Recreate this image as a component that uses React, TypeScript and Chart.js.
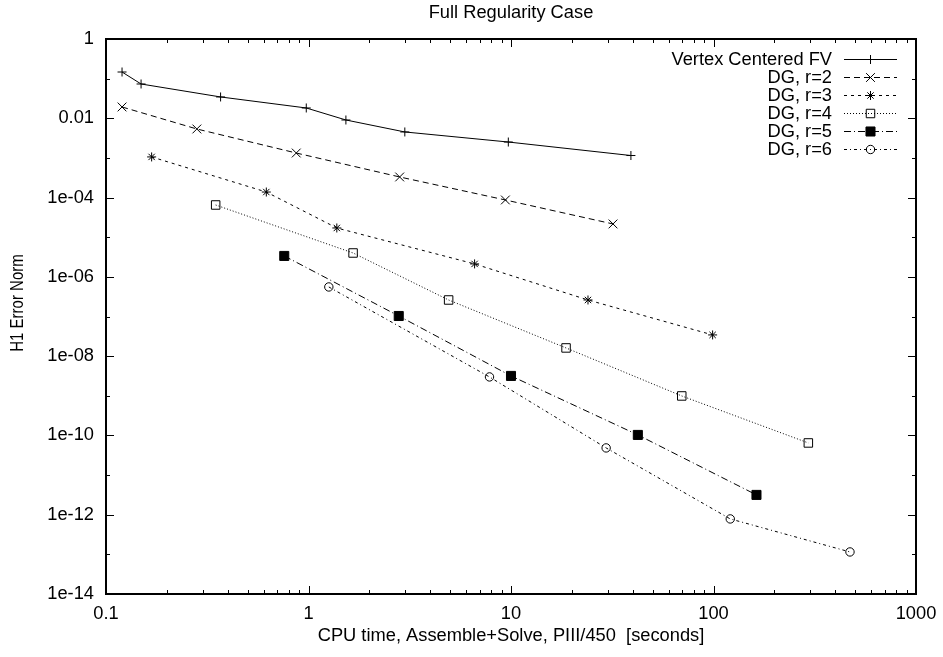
import React, { useEffect, useRef } from 'react';
import { Chart, registerables } from 'chart.js';
import { drawPoint } from 'chart.js/helpers';

Chart.register(...registerables);

const FONT = '"Liberation Sans", Arial, Helvetica, sans-serif';
const FS = 18.3;

const chartTitle = 'Full Regularity Case';
const xAxisTitle = 'CPU time, Assemble+Solve, PIII/450  [seconds]';
const yAxisTitle = 'H1 Error Norm';

const seriesNames = ['Vertex Centered FV', 'DG, r=2', 'DG, r=3', 'DG, r=4', 'DG, r=5', 'DG, r=6'];

const fvTime = [0.12, 0.149, 0.368, 0.975, 1.53, 2.99, 9.7, 39.1];
const fvError = [0.147, 0.0733, 0.0345, 0.0182, 0.00906, 0.00452, 0.00252, 0.00115];

const r2Time = [0.12, 0.281, 0.87, 2.82, 9.38, 31.9];
const r2Error = [0.0193, 0.00537, 0.00133, 3.31e-4, 8.7e-5, 2.16e-5];

const r3Time = [0.168, 0.619, 1.38, 6.61, 24.0, 99];
const r3Error = [1.06e-3, 1.38e-4, 1.71e-5, 2.12e-6, 2.61e-7, 3.43e-8];

const r4Time = [0.348, 1.66, 4.92, 18.7, 69.7, 294];
const r4Error = [6.5e-5, 4.0e-6, 2.61e-7, 1.61e-8, 9.9e-10, 6.46e-11];

const r5Time = [0.759, 2.79, 10.0, 42.3, 163];
const r5Error = [3.37e-6, 1.03e-7, 3.17e-9, 1.03e-10, 3.16e-12];

const r6Time = [1.26, 7.83, 29.5, 121, 472];
const r6Error = [5.56e-7, 2.99e-9, 4.84e-11, 7.83e-13, 1.15e-13];

const xTickValues = [0.1, 1, 10, 100, 1000];
const xTickLabels = ['0.1', '1', '10', '100', '1000'];
const yTickValues = [1e-14, 1e-12, 1e-10, 1e-8, 1e-6, 1e-4, 1e-2, 1];
const yTickLabels = ['1e-14', '1e-12', '1e-10', '1e-08', '1e-06', '1e-04', '0.01', '1'];
const yMinorTickValues = [1e-13, 1e-11, 1e-9, 1e-7, 1e-5, 1e-3, 1e-1];

const toPoints = (xs: number[], ys: number[]) => xs.map((x, i) => ({ x, y: ys[i] }));

type Style = {
  pointStyle: string;
  radius: number;
  dash: number[];
  fill: string;
};

const styles: Style[] = [
  { pointStyle: 'cross', radius: 4.5, dash: [], fill: 'rgba(0,0,0,0)' },
  { pointStyle: 'crossRot', radius: 6.2, dash: [6, 4], fill: 'rgba(0,0,0,0)' },
  { pointStyle: 'star', radius: 4.5, dash: [3, 4], fill: 'rgba(0,0,0,0)' },
  { pointStyle: 'rect', radius: 6, dash: [1, 2], fill: 'rgba(0,0,0,0)' },
  { pointStyle: 'rect', radius: 6.4, dash: [7, 3, 1, 3], fill: '#000' },
  { pointStyle: 'circle', radius: 4.2, dash: [3, 3, 1, 3], fill: 'rgba(0,0,0,0)' },
];

const seriesData = [
  toPoints(fvTime, fvError),
  toPoints(r2Time, r2Error),
  toPoints(r3Time, r3Error),
  toPoints(r4Time, r4Error),
  toPoints(r5Time, r5Error),
  toPoints(r6Time, r6Error),
];

const framePlugin = {
  id: 'gnuplotFrame',
  afterDatasetsDraw(chart: any) {
    const { ctx, chartArea: a, scales } = chart;
    const xs = scales.x;
    const ys = scales.y;
    ctx.save();
    ctx.strokeStyle = '#000';
    ctx.lineWidth = 1;
    ctx.setLineDash([]);
    const crisp = (v: number) => Math.round(v) + 0.5;
    const vTick = (px: number, len: number) => {
      const p = crisp(px);
      ctx.beginPath();
      ctx.moveTo(p, a.bottom);
      ctx.lineTo(p, a.bottom - len);
      ctx.moveTo(p, a.top);
      ctx.lineTo(p, a.top + len);
      ctx.stroke();
    };
    const hTick = (py: number, len: number) => {
      const p = crisp(py);
      ctx.beginPath();
      ctx.moveTo(a.left, p);
      ctx.lineTo(a.left + len, p);
      ctx.moveTo(a.right, p);
      ctx.lineTo(a.right - len, p);
      ctx.stroke();
    };
    xTickValues.forEach((v) => vTick(xs.getPixelForValue(v), 8));
    for (let d = 0; d < xTickValues.length - 1; d++) {
      for (let k = 2; k <= 9; k++) vTick(xs.getPixelForValue(xTickValues[d] * k), 4);
    }
    yTickValues.forEach((v) => hTick(ys.getPixelForValue(v), 8));
    yMinorTickValues.forEach((v) => hTick(ys.getPixelForValue(v), 4));

    ctx.lineWidth = 2;
    ctx.strokeRect(a.left, a.top, a.right - a.left, a.bottom - a.top);

    // title centred over the plot area
    ctx.fillStyle = '#000';
    ctx.font = `${FS}px ${FONT}`;
    ctx.textAlign = 'center';
    ctx.textBaseline = 'middle';
    ctx.fillText(chartTitle, (a.left + a.right) / 2, 13);

    // y axis title
    ctx.save();
    ctx.translate(18, 303);
    ctx.rotate(-Math.PI / 2);
    ctx.scale(1, 1.22);
    ctx.font = `15px ${FONT}`;
    ctx.fillText(yAxisTitle, 0, 0);
    ctx.restore();

    // gnuplot-style key
    const textRight = 832;
    const lineStart = 844;
    const lineEnd = 897;
    const rowTop = 58.5;
    const rowStep = 18.1;
    ctx.font = `${FS}px ${FONT}`;
    ctx.textAlign = 'right';
    ctx.textBaseline = 'middle';
    chart.data.datasets.forEach((ds: any, i: number) => {
      const y = rowTop + i * rowStep;
      ctx.fillStyle = '#000';
      ctx.fillText(ds.label, textRight, y + 1);
      ctx.lineWidth = 1;
      ctx.strokeStyle = '#000';
      ctx.setLineDash(ds.borderDash || []);
      ctx.beginPath();
      ctx.moveTo(lineStart, Math.round(y) + 0.5);
      ctx.lineTo(lineEnd, Math.round(y) + 0.5);
      ctx.stroke();
      ctx.setLineDash([]);
      ctx.fillStyle = ds.pointBackgroundColor;
      drawPoint(ctx, { pointStyle: ds.pointStyle, radius: ds.pointRadius, rotation: 0, borderWidth: 1 } as any, (lineStart + lineEnd) / 2, Math.round(y) + 0.5);
    });
    ctx.restore();
  },
};

export default function App() {
  const canvasRef = useRef<HTMLCanvasElement | null>(null);

  useEffect(() => {
    document.body.style.margin = '0';
    const canvas = canvasRef.current;
    if (!canvas) return;
    Chart.defaults.font.family = FONT;
    Chart.defaults.color = '#000';

    const chart = new Chart(canvas, {
      type: 'scatter',
      data: {
        datasets: seriesData.map((data, i) => ({
          label: seriesNames[i],
          data,
          showLine: true,
          borderColor: '#000',
          borderWidth: 1,
          borderDash: styles[i].dash,
          pointStyle: styles[i].pointStyle as any,
          pointRadius: styles[i].radius,
          pointHoverRadius: styles[i].radius,
          pointBorderWidth: 1,
          pointBorderColor: '#000',
          pointBackgroundColor: styles[i].fill,
          backgroundColor: styles[i].fill,
          tension: 0,
        })),
      },
      options: {
        animation: false,
        responsive: false,
        maintainAspectRatio: false,
        events: [],
        layout: { padding: { left: 0, right: 27, top: 39, bottom: 0 } },
        plugins: {
          legend: { display: false },
          tooltip: { enabled: false },
          title: { display: false },
        },
        scales: {
          x: {
            type: 'logarithmic',
            min: 0.1,
            max: 1000,
            afterBuildTicks: (scale: any) => {
              scale.ticks = xTickValues.map((v) => ({ value: v }));
            },
            afterFit: (scale: any) => {
              scale.height = 63;
              scale.paddingRight = 20;
              scale.paddingLeft = 20;
            },
            ticks: {
              color: '#000',
              font: { family: FONT, size: FS },
              padding: 9,
              maxRotation: 0,
              autoSkip: false,
              callback: (_v: any, i: number) => xTickLabels[i],
            },
            grid: { display: false, drawTicks: false },
            border: { display: false },
            title: {
              display: true,
              text: xAxisTitle,
              color: '#000',
              font: { family: FONT, size: FS, lineHeight: 1.2 },
              padding: { top: 10, bottom: 10 },
            },
          },
          y: {
            type: 'logarithmic',
            min: 1e-14,
            max: 1,
            afterBuildTicks: (scale: any) => {
              scale.ticks = yTickValues.map((v) => ({ value: v }));
            },
            afterFit: (scale: any) => {
              scale.width = 106;
            },
            ticks: {
              color: '#000',
              font: { family: FONT, size: FS },
              padding: 12,
              autoSkip: false,
              callback: (_v: any, i: number) => yTickLabels[i],
            },
            grid: { display: false, drawTicks: false },
            border: { display: false },
            title: { display: false },
          },
        },
      },
      plugins: [framePlugin],
    });

    return () => {
      chart.destroy();
    };
  }, []);

  return (
    <div style={{ position: 'absolute', left: 0, top: 0, width: 943, height: 657, background: '#fff' }}>
      <canvas ref={canvasRef} width={943} height={657} style={{ width: 943, height: 657, display: 'block' }} />
    </div>
  );
}
